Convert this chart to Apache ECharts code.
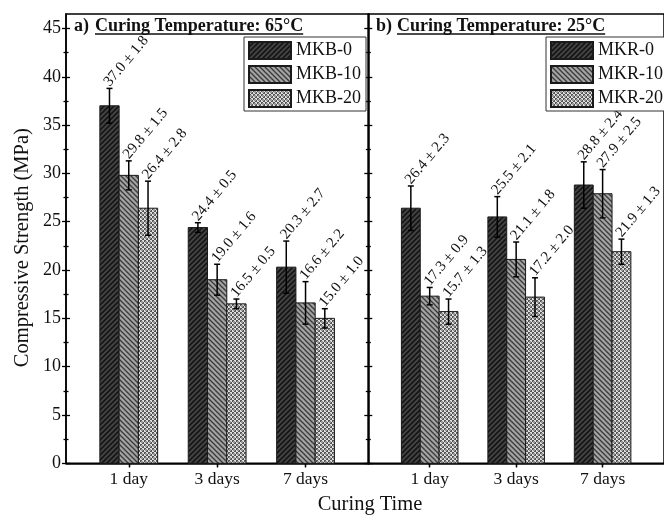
<!DOCTYPE html>
<html>
<head>
<meta charset="utf-8">
<script src="https://cdn.jsdelivr.net/npm/echarts@6/dist/echarts.min.js"></script>
<style>
  html, body { margin: 0; padding: 0; background: #fff; }
  #chart { width: 664px; height: 515px; }
</style>
</head>
<body>
<div id="chart"></div>
<script>
const FONT = '"Liberation Serif", "Times New Roman", serif';

// data
const timeLabels = ['1 day', '3 days', '7 days'];
const xTicks = [1, 2, 3];
const yTicks = [0, 5, 10, 15, 20, 25, 30, 35, 40, 45];
const yMinorTicks = [2.5, 7.5, 12.5, 17.5, 22.5, 27.5, 32.5, 37.5, 42.5];

const namesHot = ['MKB-0', 'MKB-10', 'MKB-20'];
const namesRoom = ['MKR-0', 'MKR-10', 'MKR-20'];

const mkb0 = [37.0, 24.4, 20.3];
const mkb0Err = [1.8, 0.5, 2.7];
const mkb10 = [29.8, 19.0, 16.6];
const mkb10Err = [1.5, 1.6, 2.2];
const mkb20 = [26.4, 16.5, 15.0];
const mkb20Err = [2.8, 0.5, 1.0];

const mkr0 = [26.4, 25.5, 28.8];
const mkr0Err = [2.3, 2.1, 2.4];
const mkr10 = [17.3, 21.1, 27.9];
const mkr10Err = [0.9, 1.8, 2.5];
const mkr20 = [15.7, 17.2, 21.9];
const mkr20Err = [1.3, 2.0, 1.3];

const BAR_FRAC = 0.218; // bar width as a fraction of one category step
const LABEL_ANGLE = 50 * Math.PI / 180;

// hatch fills
function makePattern(kind) {
  const c = document.createElement('canvas');
  const s = kind === 'check' ? 4 : 5;
  c.width = s; c.height = s;
  const g = c.getContext('2d');
  if (kind === 'dark') {
    g.fillStyle = '#464646'; g.fillRect(0, 0, s, s);
    g.strokeStyle = '#151515'; g.lineWidth = 1.7;
    [[0, s, s, 0], [-1, 1, 1, -1], [s - 1, s + 1, s + 1, s - 1]].forEach(([a, b, c2, d]) => {
      g.beginPath(); g.moveTo(a, b); g.lineTo(c2, d); g.stroke();
    });
  } else if (kind === 'mid') {
    g.fillStyle = '#a4a4a4'; g.fillRect(0, 0, s, s);
    g.strokeStyle = '#3a3a3a'; g.lineWidth = 1.3;
    [[0, 0, s, s], [-1, s - 1, 1, s + 1], [s - 1, -1, s + 1, 1]].forEach(([a, b, c2, d]) => {
      g.beginPath(); g.moveTo(a, b); g.lineTo(c2, d); g.stroke();
    });
  } else {
    g.fillStyle = '#e0e0e0'; g.fillRect(0, 0, s, s);
    g.fillStyle = '#555';
    g.fillRect(0, 0, 2, 2);
    g.fillRect(2, 2, 2, 2);
    g.fillStyle = '#999';
    g.fillRect(1, 1, 2, 2);
  }
  return { image: c, repeat: 'repeat' };
}
const fills = [makePattern('dark'), makePattern('mid'), makePattern('check')];

function fmt(v) { return Number(v).toFixed(1); }

function toData(vals, errs) {
  return vals.map((v, i) => [xTicks[i], v, errs[i]]);
}

function makeRender(slot) {
  return function (params, api) {
    const x = api.value(0);
    const v = api.value(1);
    const e = api.value(2);
    const unit = api.size([1, 0])[0];
    const bw = unit * BAR_FRAC;
    const base = api.coord([x, 0]);
    const top = api.coord([x, v]);
    const cx = base[0] + (slot - 1) * bw;
    const hi = api.coord([x, v + e])[1];
    const lo = api.coord([x, v - e])[1];
    const cap = 3;
    return {
      type: 'group',
      children: [
        {
          type: 'rect',
          shape: { x: cx - bw / 2, y: top[1], width: bw, height: base[1] - top[1] },
          style: { fill: api.visual('color'), stroke: '#1a1a1a', lineWidth: 1 },
        },
        { type: 'line', shape: { x1: cx, y1: lo, x2: cx, y2: hi }, style: { stroke: '#000', lineWidth: 1.5 } },
        { type: 'line', shape: { x1: cx - cap, y1: hi, x2: cx + cap, y2: hi }, style: { stroke: '#000', lineWidth: 1.5 } },
        { type: 'line', shape: { x1: cx - cap, y1: lo, x2: cx + cap, y2: lo }, style: { stroke: '#000', lineWidth: 1.5 } },
        {
          type: 'text',
          x: cx + 3,
          y: hi + 1,
          rotation: LABEL_ANGLE,
          style: {
            text: fmt(v) + ' \u00b1 ' + fmt(e),
            font: '15px ' + FONT,
            fill: '#111',
            align: 'left',
            verticalAlign: 'bottom',
          },
        },
      ],
    };
  };
}

function makeSeries(name, slot, vals, errs, gridIdx) {
  return {
    type: 'custom',
    name,
    xAxisIndex: gridIdx * 2,
    yAxisIndex: gridIdx * 4,
    itemStyle: { color: fills[slot], borderColor: '#1a1a1a', borderWidth: 1 },
    encode: { x: 0, y: 1 },
    data: toData(vals, errs),
    renderItem: makeRender(slot),
    animation: false,
  };
}

const GRID_TOP = 14;
const GRID_H = 449.3;
const GRID_W = 302.3;
const Y_MAX = 46.5;
const X_MIN = 0.29;
const X_MAX = 3.71;

function xAxes(gridIndex) {
  const common = { type: 'value', gridIndex, min: X_MIN, max: X_MAX, splitLine: { show: false } };
  return [
    {
      ...common,
      axisLine: { show: true, lineStyle: { color: '#000', width: 1.5 } },
      axisTick: { show: true, customValues: xTicks, length: 4, lineStyle: { color: '#000', width: 1.3 } },
      axisLabel: {
        customValues: xTicks,
        formatter: (val) => timeLabels[Math.round(val) - 1] || '',
        margin: 7,
        fontSize: 17.5,
        fontFamily: FONT,
        color: '#111',
      },
    },
    {
      ...common,
      axisLine: { show: false },
      axisTick: { show: true, inside: true, customValues: xTicks, length: 4, lineStyle: { color: '#000', width: 1.3 } },
      axisLabel: { show: false },
    },
  ];
}

function yAxes(gridIndex, withLabels) {
  const common = { type: 'value', gridIndex, min: 0, max: Y_MAX, position: 'left', splitLine: { show: false } };
  const tickStyle = { color: '#000', width: 1.3 };
  const main = {
    ...common,
    axisLine: { show: true, lineStyle: { color: '#000', width: 1.5 } },
    axisTick: { show: true, customValues: yTicks, length: 4, lineStyle: tickStyle },
    axisLabel: withLabels
      ? { customValues: yTicks, margin: 5, fontSize: 18, fontFamily: FONT, color: '#111' }
      : { show: false },
  };
  if (withLabels) {
    main.name = 'Compressive Strength (MPa)';
    main.nameLocation = 'middle';
    main.nameGap = 33;
    main.nameTextStyle = { fontSize: 20.5, fontFamily: FONT, color: '#111', padding: [0, 18, 0, 0] };
  }
  return [
    main,
    { ...common, axisLine: { show: false }, axisLabel: { show: false },
      axisTick: { show: true, inside: true, customValues: yTicks, length: 4, lineStyle: tickStyle } },
    { ...common, axisLine: { show: false }, axisLabel: { show: false },
      axisTick: { show: true, customValues: yMinorTicks, length: 2.5, lineStyle: tickStyle } },
    { ...common, axisLine: { show: false }, axisLabel: { show: false },
      axisTick: { show: true, inside: true, customValues: yMinorTicks, length: 2.5, lineStyle: tickStyle } },
  ];
}

function legendAt(left, names) {
  return {
    data: names,
    orient: 'vertical',
    left,
    top: 37,
    padding: [4, 5, 3, 4],
    itemWidth: 42,
    itemHeight: 17,
    itemGap: 5,
    icon: 'rect',
    borderColor: '#333',
    borderWidth: 1,
    backgroundColor: '#fff',
    selectedMode: false,
    textStyle: { fontSize: 18, fontFamily: FONT, color: '#111' },
  };
}

// measure title text so the underline fits it
const TITLE_FONT = 'bold 18px ' + FONT;
function textWidth(str, font) {
  const ctx = document.createElement('canvas').getContext('2d');
  ctx.font = font;
  return ctx.measureText(str).width;
}

function panelTitle(tag, text, tagX, textX) {
  const w = textWidth(text, TITLE_FONT);
  return [
    { type: 'text', x: tagX, y: 26, style: { text: tag, font: TITLE_FONT, fill: '#111', align: 'left', verticalAlign: 'middle' } },
    { type: 'text', x: textX, y: 26, style: { text, font: TITLE_FONT, fill: '#111', align: 'left', verticalAlign: 'middle' } },
    { type: 'line', shape: { x1: textX, y1: 34, x2: textX + w, y2: 34 }, style: { stroke: '#111', lineWidth: 1.3 } },
  ];
}

const chart = echarts.init(document.getElementById('chart'));
chart.setOption({
  animation: false,
  backgroundColor: '#fff',
  grid: [
    { left: 66, top: GRID_TOP, width: GRID_W, height: GRID_H, show: true, borderColor: '#000', borderWidth: 1.5, backgroundColor: 'transparent' },
    { left: 66 + GRID_W, top: GRID_TOP, width: GRID_W, height: GRID_H, show: true, borderColor: '#000', borderWidth: 1.5, backgroundColor: 'transparent' },
  ],
  xAxis: [...xAxes(0), ...xAxes(1)],
  yAxis: [...yAxes(0, true), ...yAxes(1, false)],
  legend: [legendAt(244, namesHot), legendAt(546, namesRoom)],
  graphic: [
    ...panelTitle('a)', 'Curing Temperature: 65\u00b0C', 74, 95),
    ...panelTitle('b)', 'Curing Temperature: 25\u00b0C', 376, 397),
    { type: 'text', x: 370, y: 505, style: { text: 'Curing Time', font: '20.5px ' + FONT, fill: '#111', align: 'center', verticalAlign: 'middle' } },
  ],
  series: [
    makeSeries(namesHot[0], 0, mkb0, mkb0Err, 0),
    makeSeries(namesHot[1], 1, mkb10, mkb10Err, 0),
    makeSeries(namesHot[2], 2, mkb20, mkb20Err, 0),
    makeSeries(namesRoom[0], 0, mkr0, mkr0Err, 1),
    makeSeries(namesRoom[1], 1, mkr10, mkr10Err, 1),
    makeSeries(namesRoom[2], 2, mkr20, mkr20Err, 1),
  ],
});
</script>
</body>
</html>
